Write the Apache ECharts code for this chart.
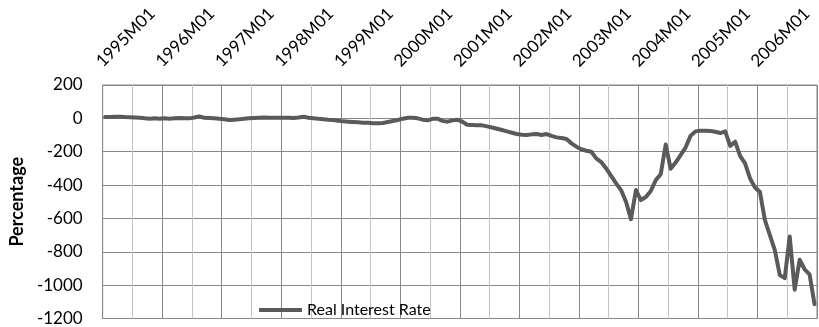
<!DOCTYPE html>
<html>
<head>
<meta charset="utf-8">
<script src="https://cdn.jsdelivr.net/npm/echarts@6/dist/echarts.min.js"></script>
<style>
  html, body { margin: 0; padding: 0; background: #ffffff; }
  #chart { width: 819px; height: 327px; }
</style>
</head>
<body>
<div id="chart"></div>
<script>
// Monthly categories, 1995M01 .. 2006M12
const startYear = 1995;
const endYear = 2006;
const categories = [];
for (let y = startYear; y <= endYear; y++) {
  for (let m = 1; m <= 12; m++) {
    categories.push(y + 'M' + (m < 10 ? '0' + m : m));
  }
}

const seriesName = 'Real Interest Rate';

// Real interest rate, percent, one value per month
const realInterestRate = [
  8, 8, 10, 10, 8, 7,
  5, 3, 0, -2, 0, -2,
  0, -2, 0, 2, 0, 0,
  5, 12, 3, 2, 0, -3,
  -5, -10, -8, -6, -2, 0,
  2, 4, 5, 4, 3, 4,
  4, 3, 2, 5, 10, 4,
  0, -3, -5, -8, -10, -14,
  -18, -20, -22, -24, -26, -27,
  -30, -30, -28, -22, -16, -10,
  -2, 4, 3, 0, -8, -12,
  -3, -2, -15, -20, -12, -8,
  -20, -38, -40, -42, -42, -48,
  -55, -62, -70, -78, -86, -94,
  -98, -100, -96, -94, -100, -94,
  -105, -114, -118, -124, -150, -170,
  -185, -194, -200, -240, -262, -300,
  -345, -390, -430, -500, -605, -430,
  -490, -472, -435, -370, -335, -157,
  -302, -265, -220, -175, -105, -78,
  -74, -74, -76, -80, -88, -78,
  -165, -140, -225, -270, -360, -415,
  -442, -610, -700, -790, -940, -958,
  -708, -1027, -848, -905, -935, -1114
];

const yMin = -1200;
const yMax = 200;
const yStep = 200;

const font = 'Lato, "Open Sans", "DejaVu Sans", sans-serif';

const chart = echarts.init(document.getElementById('chart'), null, { renderer: 'canvas' });
chart.setOption({
  animation: false,
  backgroundColor: '#ffffff',
  textStyle: { fontFamily: font },
  grid: {
    left: 96, right: 2, top: 85, bottom: 7,
    show: true,
    borderColor: '#878787',
    borderWidth: 1
  },
  legend: {
    left: 259,
    top: 302,
    padding: 0,
    icon: 'rect',
    itemWidth: 43,
    itemHeight: 4,
    data: [seriesName],
    textStyle: { fontFamily: font, fontSize: 16, color: '#000000' }
  },
  xAxis: {
    type: 'category',
    position: 'top',
    data: categories,
    boundaryGap: true,
    axisLine: { show: false },
    axisTick: { show: false },
    axisLabel: {
      interval: 11,
      rotate: 45,
      margin: 15,
      verticalAlign: 'bottom',
      hideOverlap: false,
      fontFamily: font,
      fontSize: 17,
      color: '#000000'
    },
    splitLine: {
      show: true,
      interval: 5,
      lineStyle: { color: ['#878787', '#c4c4c4'], width: 1 }
    }
  },
  yAxis: {
    type: 'value',
    min: yMin,
    max: yMax,
    interval: yStep,
    name: 'Percentage',
    nameLocation: 'middle',
    nameGap: 70,
    nameTextStyle: { fontFamily: font, fontSize: 18, fontWeight: 'bold', color: '#000000' },
    axisLine: { show: false },
    axisTick: { show: false },
    axisLabel: {
      margin: 20,
      fontFamily: font,
      fontSize: 17,
      color: '#000000',
      formatter: function (v) { return String(v); }
    },
    splitLine: { show: true, lineStyle: { color: '#878787', width: 1 } }
  },
  series: [{
    name: seriesName,
    type: 'line',
    data: realInterestRate,
    symbol: 'none',
    smooth: false,
    lineStyle: { color: '#5a5a5a', width: 4, join: 'round', cap: 'round' },
    itemStyle: { color: '#5a5a5a' }
  }]
});
</script>
</body>
</html>
